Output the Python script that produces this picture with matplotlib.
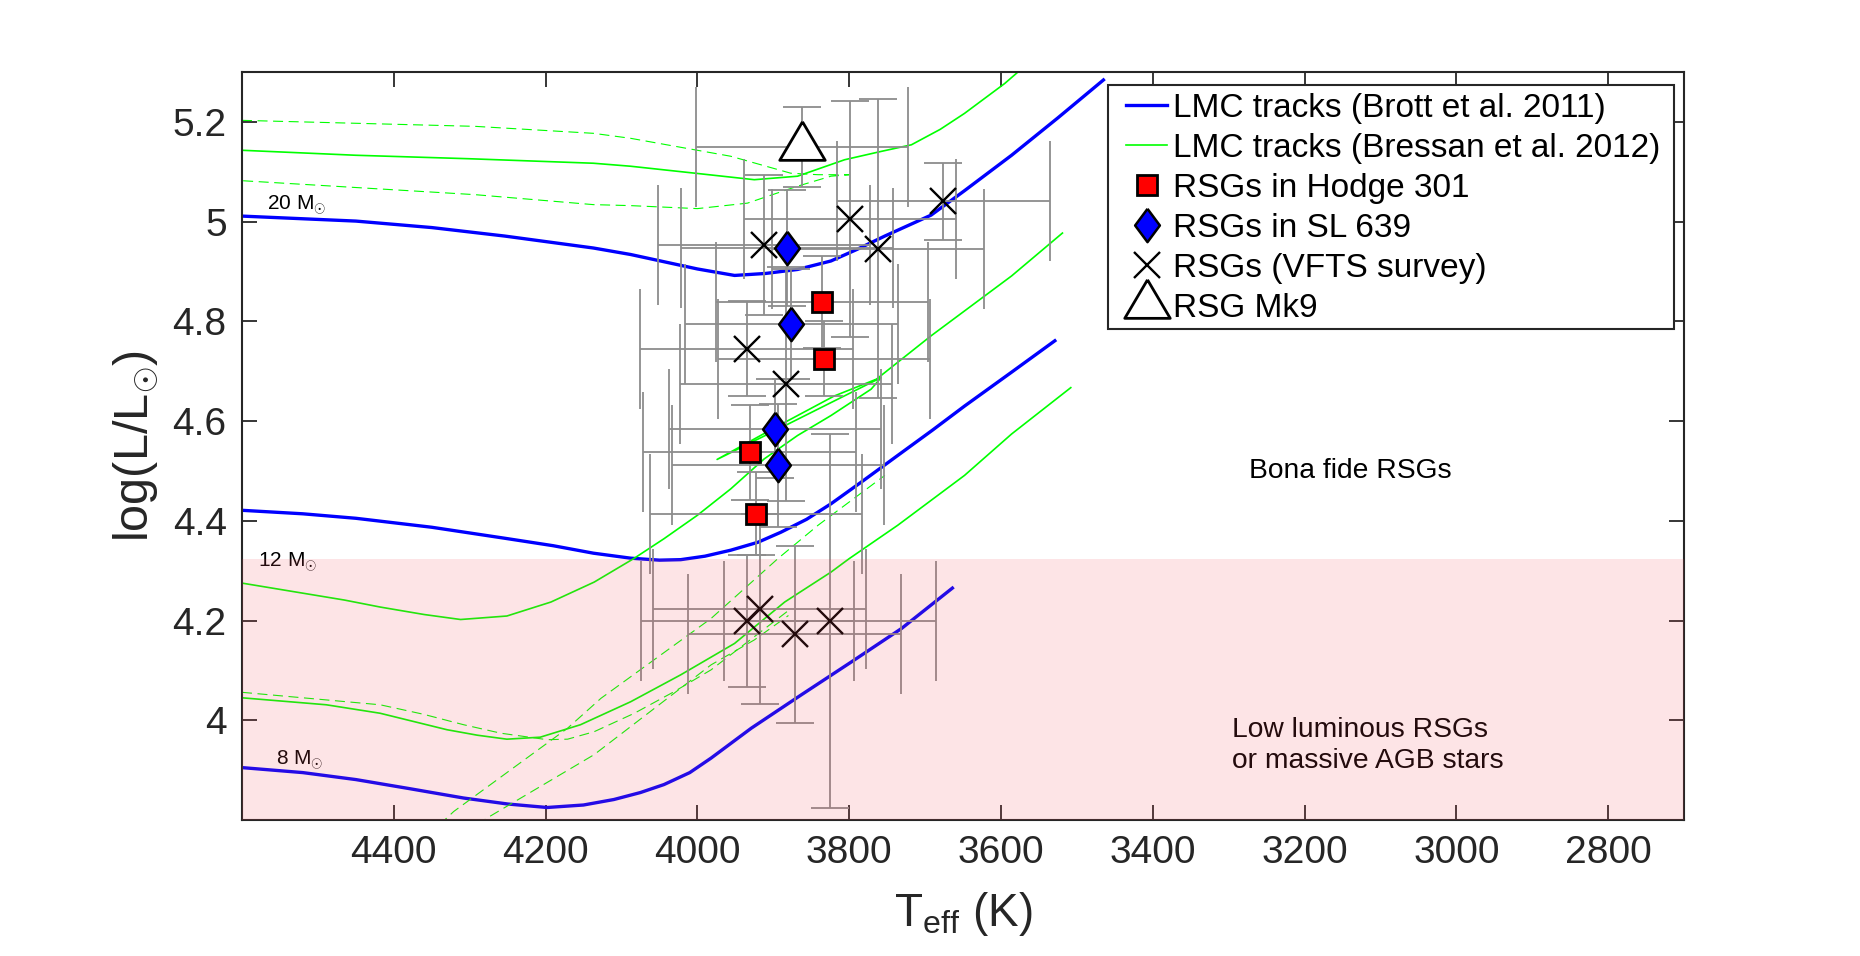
import matplotlib
matplotlib.use('Agg')
import matplotlib.pyplot as plt
from matplotlib.lines import Line2D
from matplotlib.patches import Rectangle
from matplotlib.ticker import FuncFormatter
import numpy as np

plt.rcParams['font.family'] = ['Liberation Sans', 'DejaVu Sans']
plt.rcParams['mathtext.fontset'] = 'custom'
plt.rcParams['mathtext.rm'] = 'Liberation Sans'
plt.rcParams['mathtext.it'] = 'Liberation Sans:italic'

# --- Brott et al. 2011 tracks (Teff, logL) ---
brott20_T = [4600, 4450, 4350, 4254, 4137, 4088, 4000, 3951, 3910, 3868, 3824, 3790, 3753, 3692, 3648, 3586, 3525, 3465]
brott20_L = [5.011, 5.001, 4.988, 4.971, 4.947, 4.934, 4.905, 4.892, 4.896, 4.904, 4.921, 4.944, 4.971, 5.013, 5.062, 5.133, 5.208, 5.284]
brott12_T = [4600, 4520, 4450, 4350, 4254, 4190, 4137, 4088, 4050, 4022, 3990, 3956, 3920, 3890, 3856, 3824,
             3780, 3736, 3690, 3648, 3586, 3529]
brott12_L = [4.421, 4.414, 4.405, 4.387, 4.365, 4.350, 4.335, 4.325, 4.321, 4.322, 4.329, 4.341, 4.357, 4.377, 4.403, 4.434,
             4.482, 4.531, 4.582, 4.630, 4.698, 4.761]
brott8_T = [4600, 4520, 4450, 4380, 4308, 4250, 4198, 4150, 4110, 4075, 4044, 4010, 3982, 3929, 3863, 3797, 3731, 3664]
brott8_L = [3.905, 3.895, 3.881, 3.863, 3.844, 3.832, 3.825, 3.830, 3.841, 3.855, 3.871, 3.895, 3.924, 3.984, 4.051, 4.117, 4.184, 4.265]

# --- Bressan et al. 2012 tracks ---
bres_hi_T = [4600, 4450, 4300, 4137, 4088, 4003, 3925, 3868, 3806, 3760, 3718, 3680, 3648, 3595, 3570]
bres_hi_L = [5.143, 5.133, 5.126, 5.117, 5.111, 5.097, 5.084, 5.091, 5.124, 5.140, 5.154, 5.185, 5.217, 5.277, 5.310]
bres_hi_dash_T = [4600, 4293, 4137, 4088, 3956, 3877, 3841, 3800, 3824, 3868, 3934, 4000, 4088, 4137, 4293, 4600]
bres_hi_dash_L = [5.203, 5.191, 5.177, 5.167, 5.131, 5.097, 5.094, 5.094, 5.091, 5.071, 5.037, 5.026, 5.032, 5.034, 5.054, 5.082]
bres_mid_T = [4600, 4465, 4418, 4360, 4312, 4251, 4193, 4136, 4084, 4044, 4000, 3956, 3912, 3868, 3824, 3771, 3758,
              3820, 3900, 3974, 3900, 3820, 3764, 3692, 3586, 3519]
bres_mid_L = [4.275, 4.241, 4.227, 4.212, 4.202, 4.209, 4.237, 4.277, 4.324, 4.364, 4.411, 4.464, 4.524, 4.571, 4.611, 4.664, 4.687,
              4.640, 4.579, 4.523, 4.585, 4.650, 4.684, 4.771, 4.891, 4.977]
bres_lo_T = [4600, 4489, 4418, 4330, 4290, 4251, 4207, 4154, 4088, 4022, 3951, 3885, 3824, 3800, 3736, 3648, 3586, 3508]
bres_lo_L = [4.045, 4.031, 4.014, 3.981, 3.970, 3.962, 3.966, 3.991, 4.037, 4.091, 4.154, 4.237, 4.297, 4.324, 4.391, 4.491, 4.574, 4.667]
bres_lo_dash_T = [4600, 4418, 4361, 4308, 4259, 4198, 4171, 4136, 4083, 4031, 3982, 3934, 3880]
bres_lo_dash_L = [4.056, 4.031, 4.012, 3.991, 3.974, 3.961, 3.962, 3.977, 4.014, 4.057, 4.101, 4.157, 4.220]
bres_dashA_T = [4340, 4321, 4171, 4127, 3982, 3894, 3841, 3753]
bres_dashA_L = [3.790, 3.817, 3.984, 4.044, 4.204, 4.324, 4.391, 4.491]
bres_dashB_T = [4290, 4277, 4136, 3982, 3925, 3880]
bres_dashB_L = [3.790, 3.804, 3.931, 4.111, 4.161, 4.210]

# --- RSG samples ---
hodge_T = [3836, 3833, 3931, 3923]
hodge_L = [4.839, 4.725, 4.537, 4.414]
hodge_Le = [0.092, 0.075, 0.095, 0.083]

sl639_T = [3882, 3876, 3898, 3894]
sl639_L = [4.947, 4.794, 4.585, 4.511]
sl639_Le = [0.117, 0.110, 0.100, 0.124]

vfts_T = [3912, 3799, 3762, 3676, 3935, 3883, 3934, 3918, 3872, 3825]
vfts_L = [4.953, 5.005, 4.946, 5.041, 4.745, 4.674, 4.199, 4.223, 4.172, 4.199]
vfts_Le = [0.140, 0.237, 0.300, 0.077, 0.095, 0.235, 0.133, 0.190, 0.177, 0.375]

mk9_T = [3862]
mk9_L = [5.150]
mk9_Le = [0.080]

T_err = 140

GREEN = '#00ff00'

fig = plt.figure(figsize=(18.6, 9.56), dpi=100)
ax = fig.add_axes([0.1301, 0.1423, 0.7753, 0.7824])

ax.plot(brott20_T, brott20_L, color='b', lw=2.4, zorder=2)
ax.plot(brott12_T, brott12_L, color='b', lw=2.4, zorder=2)
ax.plot(brott8_T, brott8_L, color='b', lw=2.4, zorder=2)

ax.plot(bres_hi_T, bres_hi_L, color=GREEN, lw=1.2, zorder=2)
ax.plot(bres_mid_T, bres_mid_L, color=GREEN, lw=1.2, zorder=2)
ax.plot(bres_lo_T, bres_lo_L, color=GREEN, lw=1.2, zorder=2)
for tt, ll in [(bres_hi_dash_T, bres_hi_dash_L), (bres_lo_dash_T, bres_lo_dash_L),
               (bres_dashA_T, bres_dashA_L), (bres_dashB_T, bres_dashB_L)]:
    ax.plot(tt, ll, color=GREEN, lw=0.8, dashes=(9, 5), zorder=2)

# error bars: vertical with small caps, horizontal with tall caps
all_T = hodge_T + sl639_T + vfts_T + mk9_T
all_L = hodge_L + sl639_L + vfts_L + mk9_L
all_Le = hodge_Le + sl639_Le + vfts_Le + mk9_Le
ax.errorbar(all_T, all_L, yerr=all_Le, fmt='none', ecolor='0.55', elinewidth=1.3,
            capsize=13.5, capthick=1.3, zorder=3)
ax.errorbar(all_T, all_L, xerr=T_err, fmt='none', ecolor='0.55', elinewidth=1.3,
            capsize=43, capthick=1.3, zorder=3)

diamond = [(0, 1), (0.743, 0), (0, -1), (-0.743, 0), (0, 1)]
triangle = [(0, 1.13), (-1, -0.565), (1, -0.565), (0, 1.13)]

ax.plot(vfts_T, vfts_L, 'x', color='k', ms=19, mew=1.7, zorder=4)
ax.plot(hodge_T, hodge_L, 's', mfc='r', mec='k', ms=15, mew=2, zorder=4)
ax.plot(sl639_T, sl639_L, marker=diamond, ls='none', mfc='b', mec='k', ms=24, mew=1.8, zorder=4)
ax.plot(mk9_T, mk9_L, marker=triangle, ls='none', mfc='w', mec='k', ms=37, mew=2, zorder=4)

# mass labels and regions
ax.text(4567, 5.024, r'20 M$_{\odot}$', fontsize=15, va='baseline', zorder=4)
ax.text(4579, 4.308, r'12 M$_{\odot}$', fontsize=15, va='baseline', zorder=4)
ax.text(4555, 3.911, r'8 M$_{\odot}$', fontsize=15, va='baseline', zorder=4)
ax.text(3140, 4.50, 'Bona fide RSGs', fontsize=20.3, ha='center', va='center', zorder=4)
ax.text(3296, 3.949, 'Low luminous RSGs\nor massive AGB stars', fontsize=20.3,
        ha='left', va='center', linespacing=1.24, zorder=4)

# pink band drawn on top, translucent
ax.axhspan(3.8, 4.323, color=(242/255, 75/255, 88/255), alpha=0.15, lw=0, zorder=6)

ax.set_xlim(4600, 2700)
ax.set_ylim(3.8, 5.3)
ax.set_xticks([4400, 4200, 4000, 3800, 3600, 3400, 3200, 3000, 2800])
ax.set_yticks([4.0, 4.2, 4.4, 4.6, 4.8, 5.0, 5.2])
ax.yaxis.set_major_formatter(FuncFormatter(lambda v, p: '%g' % round(v, 2)))
ax.tick_params(direction='in', top=True, right=True, length=11, width=1.3,
               labelsize=28, colors='#262626', pad=11)
for s in ax.spines.values():
    s.set_linewidth(1.5)
    s.set_color('#262626')

ax.set_xlabel(r'T$_{\mathrm{eff}}$ (K)', fontsize=33, color='#262626')
ax.xaxis.set_label_coords(0.5, -0.093)
ax.xaxis.label.set_va('top')
ax.set_ylabel(r'log(L/L$_{\odot}$)', fontsize=35, color='#262626')
ax.yaxis.set_label_coords(-0.056, 0.5)

# legend with a hand placed frame
handles = [
    Line2D([], [], color='b', lw=2.4),
    Line2D([], [], color=GREEN, lw=1.2),
    Line2D([], [], ls='none', marker='s', mfc='r', mec='k', ms=15, mew=2),
    Line2D([], [], ls='none', marker=diamond, mfc='b', mec='k', ms=24, mew=1.8),
    Line2D([], [], ls='none', marker='x', color='k', ms=19, mew=1.7),
    Line2D([], [], ls='none', marker=triangle, mfc='w', mec='k', ms=37, mew=2),
]
labels = ['LMC tracks (Brott et al. 2011)', 'LMC tracks (Bressan et al. 2012)',
          'RSGs in Hodge 301', 'RSGs in SL 639', 'RSGs (VFTS survey)', 'RSG Mk9']
frame = Rectangle((1108/1860, 1 - 329/956), (1674 - 1108)/1860, (329 - 85)/956,
                  transform=fig.transFigure, facecolor='w', edgecolor='#262626',
                  lw=1.5, zorder=9, clip_on=False)
ax.add_patch(frame)
leg = ax.legend(handles, labels, loc='upper left', bbox_to_anchor=(1126/1860, 1 - 93/956),
                bbox_transform=fig.transFigure, frameon=False, fontsize=24,
                borderpad=0, borderaxespad=0, handlelength=1.23, handletextpad=0.18,
                labelspacing=0.27)
leg.set_zorder(10)

fig.savefig('out.png', dpi=100)
